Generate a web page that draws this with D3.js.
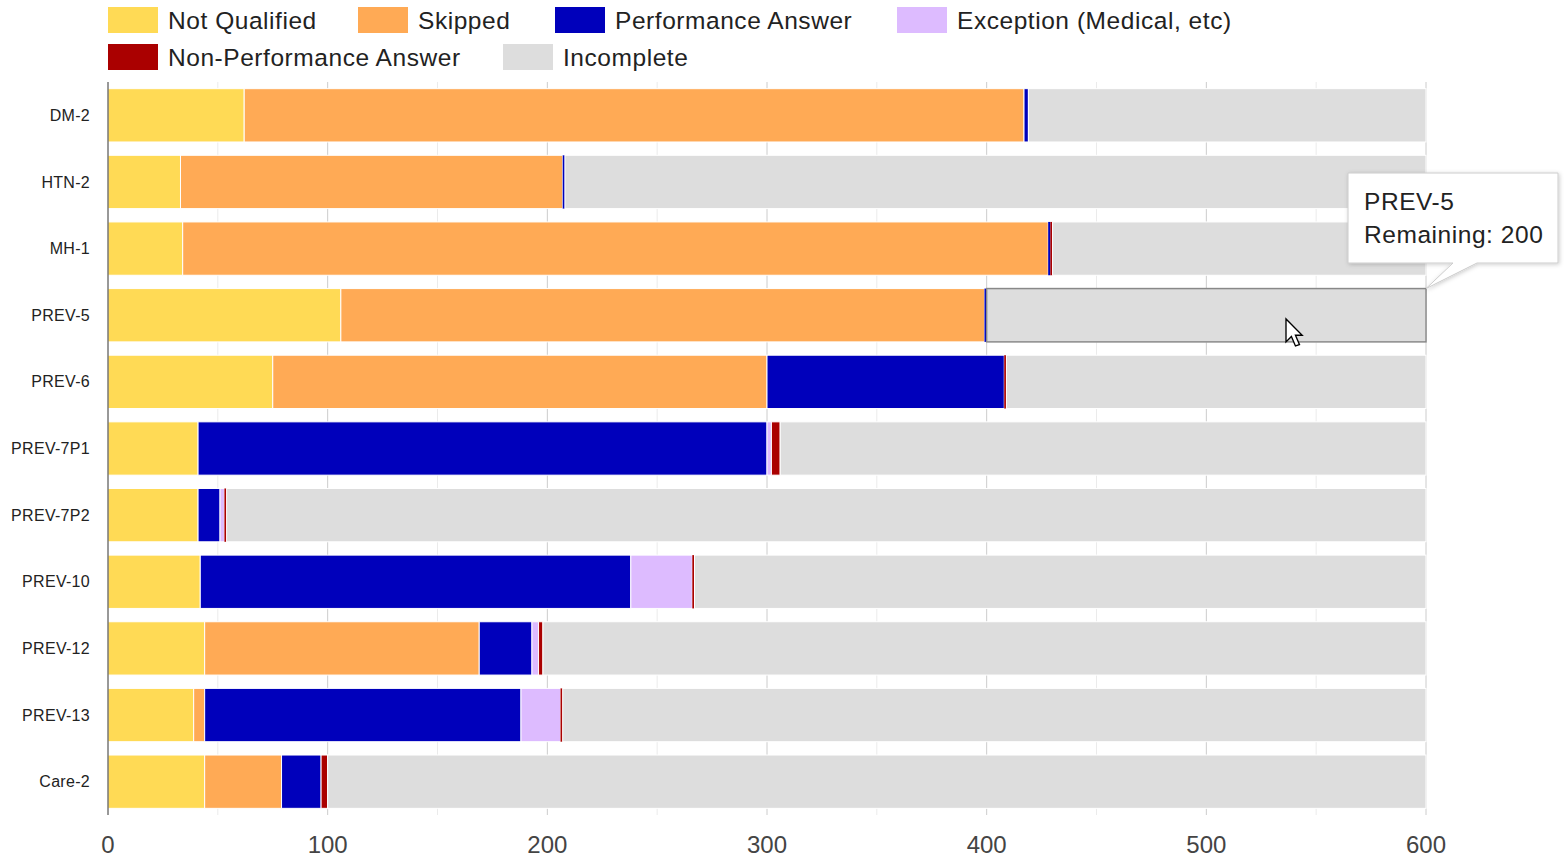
<!DOCTYPE html>
<html><head><meta charset="utf-8">
<script src="https://cdn.jsdelivr.net/npm/d3@7"></script>
<style>body{margin:0;background:#fff;font-family:Arial,"Liberation Sans",sans-serif}</style>
</head><body><svg id="c" width="1566" height="859"></svg>
<script>
const categories = ["DM-2","HTN-2","MH-1","PREV-5","PREV-6","PREV-7P1","PREV-7P2","PREV-10","PREV-12","PREV-13","Care-2"];
const seriesNames = ["Not Qualified","Skipped","Performance Answer","Exception (Medical, etc)","Non-Performance Answer","Incomplete"];
const seriesColors = ["#ffda55","#ffaa55","#0000bb","#ddbbff","#aa0000","#dddddd"];
const notQualified   = [62, 33, 34, 106, 75, 41, 41, 42, 44, 39, 44];
const skipped        = [355,174,394,293,225, 0,  0,  0,125,  5, 35];
const performance    = [2,   1,  1,  1,108,259, 10,196, 24,144, 18];
const exception      = [0,   0,  0,  0,  0,  2,  2, 28,  3, 18,  0];
const nonPerformance = [0,   0,  1,  0,  1,  4,  1,  1,  2,  1,  3];
const incomplete     = [181,392,170,200,191,294,546,333,402,393,500];
const xTicks = [0,100,200,300,400,500,600];
const xMinorTicks = [50,150,250,350,450,550];
const tooltipLines = ["PREV-5","Remaining: 200"];

const keys = ["nq","sk","pf","ex","np","in"];
const rows = categories.map((c,i)=>({cat:c,nq:notQualified[i],sk:skipped[i],pf:performance[i],ex:exception[i],np:nonPerformance[i],in:incomplete[i]}));
const stacked = d3.stack().keys(keys)(rows);

const svg = d3.select("#c");
const x = d3.scaleLinear().domain([0,600]).range([108,1426]);
const y = d3.scaleBand().domain(categories).range([82,815]).paddingInner(0.2).paddingOuter(0.1);

// gridlines
svg.append("g").selectAll("line").data(xMinorTicks).join("line")
  .attr("x1",d=>x(d)).attr("x2",d=>x(d)).attr("y1",82).attr("y2",815)
  .attr("stroke","#ebebeb").attr("stroke-width",1);
svg.append("g").selectAll("line").data(xTicks.slice(1)).join("line")
  .attr("x1",d=>x(d)).attr("x2",d=>x(d)).attr("y1",82).attr("y2",815)
  .attr("stroke","#cccccc").attr("stroke-width",1);

// bars
svg.append("g").selectAll("g").data(stacked).join("g")
  .attr("fill",(d,i)=>seriesColors[i])
  .selectAll("rect").data(d=>d.filter(s=>s[1]-s[0]>0)).join("rect")
  .attr("x",d=>x(d[0])).attr("width",d=>Math.max(x(d[1])-x(d[0]),2))
  .attr("y",d=>y(d.data.cat)).attr("height",y.bandwidth())
  .attr("stroke",d=>(x(d[1])-x(d[0]))>4?"#fff":"none").attr("stroke-width",1);

// baseline
svg.append("line").attr("x1",x(0)).attr("x2",x(0)).attr("y1",82).attr("y2",815)
  .attr("stroke","#333").attr("stroke-width",1);

// y labels
svg.append("g").selectAll("text").data(categories).join("text")
  .attr("x",90).attr("y",d=>y(d)+y.bandwidth()/2).attr("dy","0.35em")
  .attr("text-anchor","end").attr("font-size",16).attr("letter-spacing",0.3).attr("fill","#222").text(d=>d);

// x axis labels
svg.append("g").selectAll("text").data(xTicks).join("text")
  .attr("x",d=>x(d)).attr("y",845).attr("dy","0.35em")
  .attr("text-anchor","middle").attr("font-size",24).attr("fill","#444").text(d=>d);

// legend
const legendPos = [[108,7],[358,7],[555,7],[897,7],[108,44],[503,44]];
const lg = svg.append("g");
seriesNames.forEach((n,i)=>{
  const [lx,ly]=legendPos[i];
  lg.append("rect").attr("x",lx).attr("y",ly).attr("width",50).attr("height",26).attr("fill",seriesColors[i]);
  lg.append("text").attr("x",lx+60).attr("y",ly+13).attr("dy","0.35em").attr("font-size",24.5)
    .attr("letter-spacing",0.55).attr("fill","#222").text(n);
});

// hover highlight on PREV-5 incomplete
const hov = stacked[5][3];
svg.append("rect").attr("x",x(hov[0])).attr("y",y("PREV-5")).attr("width",x(hov[1])-x(hov[0])).attr("height",y.bandwidth())
  .attr("fill","none").attr("stroke","#888").attr("stroke-width",1.5);

// tooltip
const defs = svg.append("defs");
const f = defs.append("filter").attr("id","sh").attr("x","-10%").attr("y","-10%").attr("width","130%").attr("height","140%");
f.append("feDropShadow").attr("dx",1).attr("dy",1).attr("stdDeviation",2).attr("flood-color","#000").attr("flood-opacity",0.2);
const tx=1348, ty=173, tw=210, th=90, tipX=x(600), tipY=y("PREV-5");
svg.append("path").attr("filter","url(#sh)")
  .attr("d",`M${tx},${ty}H${tx+tw}V${ty+th}H${1477}L${tipX},${tipY}L${1453},${ty+th}H${tx}Z`)
  .attr("fill","#fff").attr("stroke","#ccc").attr("stroke-width",1);
tooltipLines.forEach((t,i)=>{
  svg.append("text").attr("x",1364).attr("y",210+i*33).attr("font-size",24.5).attr("letter-spacing",0.55).attr("fill","#222").text(t);
});

// cursor
svg.append("path").attr("transform","translate(1286,319) scale(1.35)")
  .attr("d","M0,0 L0,17 L4,13 L7,20 L10,19 L7,12 L12,12 Z")
  .attr("fill","#fff").attr("stroke","#000").attr("stroke-width",1);
</script></body></html>
